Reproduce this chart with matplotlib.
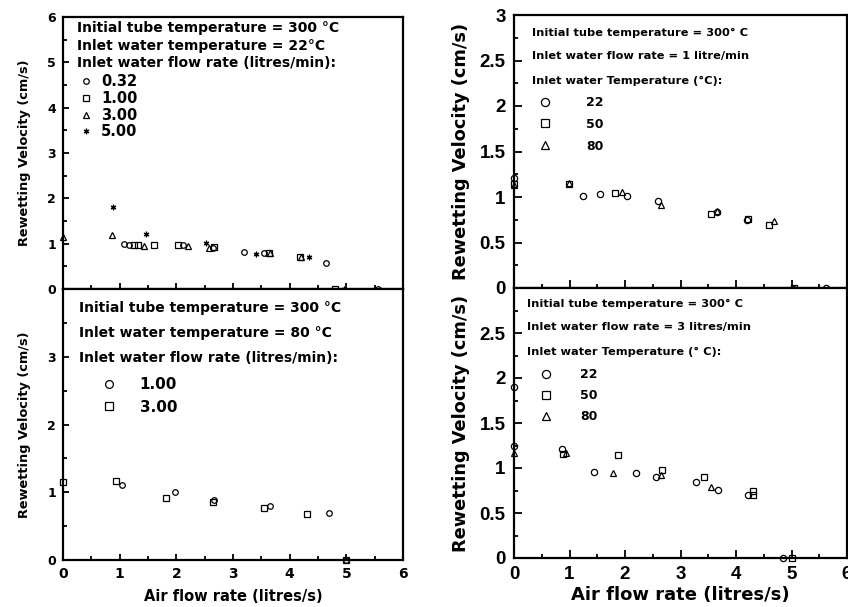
import matplotlib
matplotlib.use("Agg")
import matplotlib.pyplot as plt
from matplotlib.ticker import MultipleLocator

# top-left: inlet water 22 C, series by water flow rate (litres/min)
tl_labels = ["0.32", "1.00", "3.00", "5.00"]
tl_x = [
    [1.08, 1.16, 2.12, 2.65, 3.20, 3.54, 4.64, 5.55],
    [1.25, 1.33, 1.61, 2.03, 2.66, 3.63, 4.18, 4.80],
    [0.0, 0.87, 1.43, 2.21, 2.57, 3.65, 4.20],
    [0.885, 1.47, 2.53, 3.40, 4.34, 4.95],
]
tl_y = [
    [1.00, 0.98, 0.97, 0.90, 0.82, 0.80, 0.57, 0.0],
    [0.98, 0.98, 0.98, 0.98, 0.92, 0.79, 0.70, 0.0],
    [1.15, 1.19, 0.95, 0.95, 0.90, 0.79, 0.70],
    [1.81, 1.22, 1.02, 0.77, 0.71, 0.0],
]

# bottom-left: inlet water 80 C
bl_labels = ["1.00", "3.00"]
bl_x = [
    [1.04, 1.98, 2.67, 3.66, 4.69, 5.00],
    [0.0, 0.94, 1.82, 2.65, 3.54, 4.30, 5.00],
]
bl_y = [
    [1.11, 1.00, 0.88, 0.80, 0.70, 0.0],
    [1.15, 1.16, 0.92, 0.86, 0.77, 0.68, 0.0],
]

# top-right: water flow 1 litre/min, series by inlet water temperature
tr_labels = ["22", "50", "80"]
tr_x = [
    [0.0, 1.24, 1.55, 2.04, 2.60, 3.66, 4.20, 5.62],
    [0.0, 0.99, 1.82, 3.55, 4.22, 4.60, 5.04],
    [0.0, 0.99, 1.95, 2.65, 3.66, 4.69, 5.04],
]
tr_y = [
    [1.21, 1.01, 1.03, 1.01, 0.96, 0.83, 0.75, 0.0],
    [1.14, 1.14, 1.04, 0.81, 0.76, 0.69, 0.0],
    [1.13, 1.15, 1.05, 0.91, 0.85, 0.74, 0.0],
]

# bottom-right: water flow 3 litres/min
br_labels = ["22", "50", "80"]
br_x = [
    [0.0, 0.0, 0.86, 1.44, 2.20, 2.56, 3.28, 3.68, 4.22, 4.85],
    [0.88, 1.88, 2.67, 3.42, 4.31, 4.31, 5.00],
    [0.0, 0.94, 1.79, 2.65, 3.55],
]
br_y = [
    [1.90, 1.25, 1.21, 0.96, 0.95, 0.90, 0.84, 0.76, 0.70, 0.0],
    [1.16, 1.14, 0.98, 0.90, 0.70, 0.74, 0.0],
    [1.17, 1.17, 0.94, 0.92, 0.79],
]

markers = ["o", "s", "^", (6, 2, 0)]

W, H = 848, 607
fig = plt.figure(figsize=(W / 100, H / 100), dpi=100)


def rect(left, top, right, bottom):
    return [left / W, 1 - bottom / H, (right - left) / W, (bottom - top) / H]


ax_tl = fig.add_axes(rect(63, 17, 403, 289))
ax_bl = fig.add_axes(rect(63, 289, 403, 560))
ax_tr = fig.add_axes(rect(514, 15, 847, 288))
ax_br = fig.add_axes(rect(514, 288, 847, 558))

bold = dict(family="DejaVu Sans", weight="bold")
tick_font = dict(family="Liberation Sans", weight="bold")


def style(ax, ymax, ystep, big):
    ax.set_xlim(0, 6)
    ax.set_ylim(0, ymax)
    ax.xaxis.set_major_locator(MultipleLocator(1))
    ax.xaxis.set_minor_locator(MultipleLocator(0.5))
    ax.yaxis.set_major_locator(MultipleLocator(ystep))
    ax.yaxis.set_minor_locator(MultipleLocator(ystep / 2))
    for s in ax.spines.values():
        s.set_linewidth(1.6)
    ax.tick_params(which="both", direction="in", top=False, right=False, width=1.3)
    ax.tick_params(which="major", length=6 if big else 4, pad=6 if big else 5)
    ax.tick_params(which="minor", length=3)
    font = tick_font if big else bold
    size = 13.5 if big else 9
    for lab in ax.get_xticklabels() + ax.get_yticklabels():
        lab.set_fontfamily(font["family"])
        lab.set_fontweight("bold")
        lab.set_fontsize(size)


def draw(ax, xs, ys, labels, ms):
    for i, (x, y, lab) in enumerate(zip(xs, ys, labels)):
        ax.plot(x, y, linestyle="none", marker=markers[i], ms=ms, mfc="none",
                mec="black", mew=0.9, color="black", label=lab, clip_on=False)


def headers(ax, x, ys, lines, size):
    for y, line in zip(ys, lines):
        ax.text(x, y, line, transform=ax.transAxes, va="center", ha="left",
                fontsize=size, **bold)


# top-left
draw(ax_tl, tl_x, tl_y, tl_labels, 4)
style(ax_tl, 6, 1, False)
ax_tl.tick_params(labelbottom=False)
headers(ax_tl, 0.041, [0.96, 0.893, 0.831],
        ["Initial tube temperature = 300 °C",
         "Inlet water temperature = 22°C",
         "Inlet water flow rate (litres/min):"], 10)
ax_tl.legend(loc="upper left", bbox_to_anchor=(0.047, 0.79), frameon=False,
             borderpad=0, borderaxespad=0, handlelength=1.0, handletextpad=0.5,
             labelspacing=0.12, prop=dict(size=10.5, **bold))
ax_tl.set_ylabel("Rewetting Velocity (cm/s)", fontsize=9.3, labelpad=12, **bold)

# bottom-left
draw(ax_bl, bl_x, bl_y, bl_labels, 4)
style(ax_bl, 4, 1, False)
ax_bl.set_yticks([0, 1, 2, 3])
for lab in ax_bl.get_yticklabels():
    lab.set_fontfamily("DejaVu Sans")
    lab.set_fontweight("bold")
    lab.set_fontsize(9)
for lab in ax_bl.get_xticklabels():
    lab.set_fontsize(10)
headers(ax_bl, 0.047, [0.930, 0.838, 0.745],
        ["Initial tube temperature = 300 °C",
         "Inlet water temperature = 80 °C",
         "Inlet water flow rate (litres/min):"], 10)
ax_bl.legend(loc="upper left", bbox_to_anchor=(0.091, 0.675), frameon=False,
             borderpad=0, borderaxespad=0, handlelength=2.0, handletextpad=1.0,
             labelspacing=0.5, markerscale=1.4, prop=dict(size=11, **bold))
ax_bl.set_ylabel("Rewetting Velocity (cm/s)", fontsize=9.3, labelpad=12, **bold)
ax_bl.set_xlabel("Air flow rate (litres/s)", fontsize=10.5, labelpad=6, **bold)

# top-right
draw(ax_tr, tr_x, tr_y, tr_labels, 4.5)
style(ax_tr, 3, 0.5, True)
ax_tr.tick_params(labelbottom=False)
ax_tr.set_yticks([0, 0.5, 1, 1.5, 2, 2.5, 3])
ax_tr.set_yticklabels(["0", "0.5", "1", "1.5", "2", "2.5", "3"], fontsize=13.5, **tick_font)
headers(ax_tr, 0.054, [0.934, 0.850, 0.758],
        ["Initial tube temperature = 300° C",
         "Inlet water flow rate = 1 litre/min",
         "Inlet water Temperature (°C):"], 8.2)
ax_tr.legend(loc="upper left", bbox_to_anchor=(0.056, 0.703), frameon=False,
             borderpad=0, borderaxespad=0, handlelength=2.0, handletextpad=2.3,
             labelspacing=0.7, markerscale=1.3, prop=dict(size=9, **bold))
ax_tr.set_ylabel("Rewetting Velocity (cm/s)", fontsize=12.8, labelpad=7, **bold)

# bottom-right
draw(ax_br, br_x, br_y, br_labels, 4.5)
style(ax_br, 3, 0.5, True)
ax_br.set_yticks([0, 0.5, 1, 1.5, 2, 2.5])
ax_br.set_yticklabels(["0", "0.5", "1", "1.5", "2", "2.5"], fontsize=13.5, **tick_font)
headers(ax_br, 0.039, [0.941, 0.856, 0.763],
        ["Initial tube temperature = 300° C",
         "Inlet water flow rate = 3 litres/min",
         "Inlet water Temperature (° C):"], 8.2)
ax_br.legend(loc="upper left", bbox_to_anchor=(0.059, 0.704), frameon=False,
             borderpad=0, borderaxespad=0, handlelength=2.0, handletextpad=1.7,
             labelspacing=0.65, markerscale=1.3, prop=dict(size=9, **bold))
ax_br.set_ylabel("Rewetting Velocity (cm/s)", fontsize=12.8, labelpad=7, **bold)
ax_br.set_xlabel("Air flow rate (litres/s)", fontsize=13, labelpad=2, **bold)

fig.savefig("out.png", dpi=100)
